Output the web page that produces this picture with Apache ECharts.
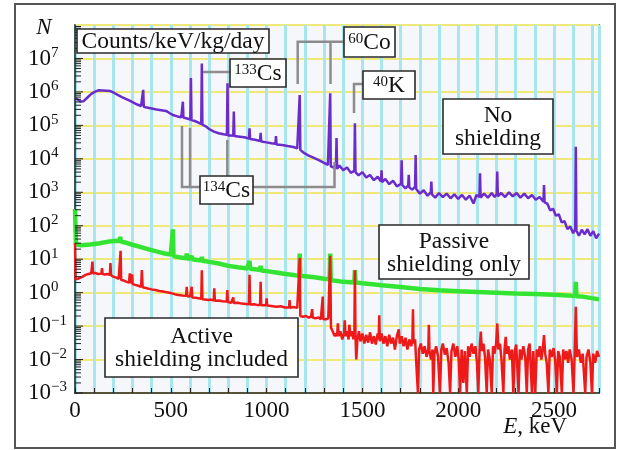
<!DOCTYPE html>
<html>
<head>
<meta charset="utf-8">
<script src="https://cdn.jsdelivr.net/npm/echarts@6/dist/echarts.min.js"></script>
<style>
  html, body { margin: 0; padding: 0; background: #fff; }
  #main-chart { width: 620px; height: 450px; }
</style>
</head>
<body>
<div id="main-chart"></div>
<script>
// [E keV, counts/keV/kg/day]
const noShielding = [
  [0, 6.6e5], [12, 6.0e5], [28, 5.2e5], [45, 5.3e5], [65, 6.8e5], [85, 8.7e5], [105, 1.02e6], [125, 1.12e6],
  [145, 1.1e6], [165, 1.08e6], [185, 1.06e6], [205, 9.3e5], [225, 8.0e5], [245, 7.0e5], [265, 6.2e5],
  [285, 5.5e5], [305, 4.8e5], [325, 4.2e5], [345, 3.8e5], [353, 3.7e5], [356, 1.15e6], [359, 3.6e5],
  [375, 3.4e5], [400, 3.2e5], [425, 3.0e5], [450, 2.85e5], [475, 2.7e5], [495, 2.3e5], [515, 2.0e5],
  [535, 1.85e5], [555, 1.75e5], [560, 1.75e5], [563, 5.1e5], [566, 1.7e5], [585, 1.6e5],
  [602, 1.5e5], [605, 2.6e6], [608, 1.45e5], [625, 1.35e5], [645, 1.2e5], [659, 1.12e5], [662, 7.1e6],
  [665, 1.05e5], [680, 9.5e4], [700, 7.8e4], [725, 6.5e4], [750, 5.8e4], [775, 5.4e4],
  [793, 5.2e4], [796, 1.8e6], [799, 5.0e4], [812, 5.0e4], [826, 4.9e4], [829, 2.6e5], [832, 4.8e4],
  [860, 4.6e4], [885, 4.4e4], [908, 4.0e4], [911, 8.1e4], [914, 3.9e4], [940, 3.7e4],
  [966, 3.4e4], [969, 6.0e4], [972, 3.3e4], [1000, 3.1e4], [1025, 2.9e4], [1046, 2.8e4], [1049, 4.8e4],
  [1052, 2.7e4], [1080, 2.6e4], [1110, 2.4e4], [1140, 2.25e4], [1160, 2.05e4], [1170, 1.95e4],
  [1173, 8.1e5], [1176, 1.85e4], [1195, 1.5e4], [1220, 1.25e4], [1250, 1.05e4], [1275, 9.0e3],
  [1300, 7.6e3], [1320, 6.6e3], [1329, 6.2e3], [1332, 9.1e5], [1335, 6.0e3], [1348, 5.6e3],
  [1362, 5.2e3], [1365, 4.2e4], [1368, 5.0e3], [1380, 6300], [1400, 4600], [1420, 5500], [1440, 3800],
  [1458, 4400], [1461, 1.15e5], [1464, 4000], [1480, 3200], [1500, 4000], [1520, 2750], [1540, 3300],
  [1560, 2300], [1580, 2900], [1597, 2100], [1600, 4500], [1603, 2000], [1620, 2500], [1640, 1750],
  [1660, 2200], [1680, 1500], [1702, 1800], [1705, 9100], [1708, 1650], [1725, 1300], [1739, 1600],
  [1742, 3300], [1745, 1400], [1760, 1200], [1775, 1450], [1778, 12900], [1781, 1250], [1800, 910],
  [1820, 1150], [1840, 790], [1857, 1000], [1860, 2100], [1863, 870], [1880, 690], [1900, 950],
  [1920, 720], [1940, 910], [1960, 660], [1980, 870], [2000, 630], [2020, 830], [2040, 600],
  [2060, 790], [2080, 460], [2095, 830], [2111, 720], [2114, 3700], [2117, 690], [2135, 910],
  [2155, 690], [2175, 950], [2190, 720], [2201, 870], [2204, 4200], [2207, 760], [2225, 950],
  [2245, 720], [2265, 1000], [2285, 760], [2305, 950], [2325, 690], [2345, 910], [2365, 660],
  [2385, 830], [2405, 600], [2425, 720], [2445, 520], [2448, 1650], [2451, 500], [2465, 460],
  [2480, 290], [2495, 320], [2510, 200], [2525, 220], [2540, 126], [2555, 138], [2570, 79],
  [2585, 95], [2600, 60], [2611, 79], [2614, 22900], [2617, 72], [2630, 50], [2645, 76],
  [2660, 55], [2675, 79], [2690, 50], [2705, 69], [2720, 42], [2735, 58]
]

const passiveOnly = [
  [0, 316], [5, 28], [30, 26], [80, 27.5], [130, 30], [180, 34], [220, 35.5], [233, 35], [236, 47],
  [239, 34], [260, 31.6], [300, 27], [340, 23.4], [380, 20], [420, 17.4], [460, 15.1], [500, 13.8],
  [508, 13.5], [511, 78], [514, 12.5], [530, 11.7], [560, 11], [580, 10.6], [583, 14.8], [586, 10.5],
  [600, 10.2], [606, 10.1], [609, 12.6], [612, 10], [640, 9.5], [659, 9.2], [662, 11.7], [665, 9],
  [700, 8.3], [750, 7.4], [800, 6.3], [850, 5.75], [900, 5.3], [908, 5.25], [911, 8.9], [914, 5.2],
  [950, 4.9], [966, 4.7], [969, 6.3], [972, 4.6], [1000, 4.4], [1050, 4.0], [1100, 3.6], [1150, 3.3],
  [1170, 3.2], [1173, 14.8], [1176, 3.15], [1200, 3.1], [1250, 2.9], [1300, 2.6], [1329, 2.5],
  [1332, 14.8], [1335, 2.4], [1350, 2.3], [1400, 2.1], [1458, 2.0], [1461, 4.7], [1464, 2.0],
  [1500, 1.9], [1600, 1.66], [1700, 1.48], [1800, 1.29], [1900, 1.17], [2000, 1.1], [2100, 1.05],
  [2200, 1.0], [2300, 0.95], [2400, 0.91], [2500, 0.87], [2600, 0.8], [2611, 0.79], [2614, 2.1],
  [2617, 0.78], [2650, 0.76], [2735, 0.63]
]

const activeIncluded = [
  [0, 30], [3, 2.5], [15, 2.6], [25, 2.7], [40, 3.0], [55, 3.4], [70, 3.6], [85, 3.8], [88, 3.6],
  [91, 8.5], [94, 3.7], [105, 3.9], [120, 3.6], [130, 4.0], [138, 3.7], [141, 5.4], [144, 3.6],
  [155, 3.5], [170, 3.6], [182, 3.4], [185, 7.6], [188, 3.3], [200, 3.0], [215, 2.8], [228, 2.6],
  [235, 2.5], [238, 17.8], [241, 2.4], [255, 2.3], [270, 2.1], [282, 2.0], [286, 3.8], [290, 1.9],
  [295, 1.9], [298, 3.5], [301, 1.8], [315, 1.7], [330, 1.6], [345, 1.5], [349, 4.7], [353, 1.45],
  [365, 1.4], [380, 1.33], [400, 1.25], [420, 1.2], [440, 1.12], [460, 1.08], [480, 1.02], [500, 0.97],
  [520, 0.9], [540, 0.85], [560, 0.82], [580, 0.8], [583, 1.5], [586, 0.78], [600, 0.76], [606, 0.75],
  [609, 1.5], [612, 0.72], [630, 0.7], [645, 0.68], [659, 0.66], [662, 4.7], [665, 0.63], [680, 0.62],
  [695, 0.6], [710, 0.62], [724, 0.58], [727, 1.35], [730, 0.57], [750, 0.58], [770, 0.55], [792, 0.54],
  [795, 1.2], [798, 0.52], [815, 0.5], [823, 0.5], [826, 0.72], [829, 0.49], [850, 0.5], [870, 0.47],
  [890, 0.46], [908, 0.45], [911, 3.4], [914, 0.44], [935, 0.45], [950, 0.43], [966, 0.43], [969, 2.1],
  [972, 0.42], [985, 0.42], [997, 0.42], [1000, 0.68], [1003, 0.41], [1025, 0.4], [1050, 0.38],
  [1075, 0.39], [1095, 0.36], [1117, 0.36], [1120, 0.6], [1123, 0.35], [1140, 0.37], [1160, 0.35],
  [1170, 0.35], [1173, 11], [1176, 0.2], [1190, 0.19], [1205, 0.2], [1220, 0.18], [1232, 0.19],
  [1238, 0.32], [1241, 0.18], [1255, 0.17], [1270, 0.18], [1283, 0.16], [1290, 0.17], [1293, 0.76],
  [1296, 0.16], [1310, 0.16], [1322, 0.17], [1329, 0.17], [1332, 12.6], [1336, 0.09], [1345, 0.07],
  [1355, 0.05], [1362, 0.06], [1368, 0.05], [1372, 0.12], [1376, 0.05], [1385, 0.07], [1395, 0.04],
  [1404, 0.06], [1408, 0.15], [1412, 0.05], [1420, 0.07], [1428, 0.04], [1432, 0.11], [1438, 0.05],
  [1446, 0.07], [1453, 0.04], [1458, 0.06], [1461, 4.7], [1464, 0.05], [1468, 0.01], [1474, 0.04],
  [1482, 0.07], [1490, 0.035], [1500, 0.06], [1510, 0.03], [1520, 0.055], [1530, 0.032], [1540, 0.065],
  [1550, 0.03], [1560, 0.05], [1570, 0.028], [1580, 0.06], [1585, 0.04], [1588, 0.21], [1591, 0.035],
  [1600, 0.06], [1610, 0.03], [1620, 0.05], [1630, 0.025], [1640, 0.055], [1650, 0.03], [1660, 0.045],
  [1670, 0.02], [1680, 0.05], [1690, 0.08], [1695, 0.03], [1705, 0.05], [1715, 0.025], [1725, 0.045],
  [1735, 0.02], [1745, 0.04], [1755, 0.025], [1761, 0.04], [1764, 0.32], [1767, 0.03], [1775, 0.04],
  [1784, 0.004], [1790, 0.001], [1796, 0.02], [1805, 0.03], [1815, 0.015], [1825, 0.025], [1835, 0.012],
  [1844, 0.02], [1847, 0.11], [1850, 0.018], [1858, 0.01], [1866, 0.02], [1870, 0.001], [1876, 0.015],
  [1885, 0.025], [1895, 0.012], [1905, 0.001], [1912, 0.02], [1920, 0.03], [1930, 0.014], [1940, 0.022],
  [1950, 0.008], [1958, 0.001], [1965, 0.018], [1975, 0.03], [1985, 0.012], [1995, 0.025], [2003, 0.01],
  [2010, 0.001], [2018, 0.02], [2027, 0.002], [2035, 0.018], [2045, 0.001], [2052, 0.025], [2060, 0.012],
  [2070, 0.03], [2080, 0.015], [2090, 0.025], [2098, 0.008], [2105, 0.001], [2112, 0.02], [2118, 0.068],
  [2124, 0.018], [2132, 0.03], [2140, 0.012], [2149, 0.001], [2156, 0.02], [2165, 0.01], [2175, 0.001],
  [2182, 0.025], [2190, 0.015], [2198, 0.03], [2204, 0.12], [2210, 0.02], [2218, 0.03], [2226, 0.01],
  [2236, 0.001], [2242, 0.02], [2248, 0.048], [2254, 0.015], [2262, 0.025], [2270, 0.01], [2280, 0.02],
  [2288, 0.001], [2295, 0.018], [2303, 0.028], [2315, 0.001], [2322, 0.02], [2330, 0.01], [2340, 0.025],
  [2350, 0.012], [2358, 0.001], [2365, 0.02], [2373, 0.03], [2385, 0.001], [2392, 0.018], [2402, 0.001],
  [2410, 0.02], [2418, 0.012], [2426, 0.025], [2434, 0.01], [2442, 0.022], [2448, 0.054], [2454, 0.015],
  [2462, 0.008], [2471, 0.001], [2478, 0.02], [2488, 0.012], [2498, 0.022], [2506, 0.01], [2515, 0.001],
  [2522, 0.018], [2530, 0.012], [2541, 0.001], [2548, 0.02], [2556, 0.01], [2565, 0.018], [2574, 0.008],
  [2582, 0.02], [2592, 0.01], [2602, 0.001], [2608, 0.015], [2614, 0.38], [2620, 0.012], [2630, 0.02],
  [2640, 0.008], [2650, 0.015], [2663, 0.001], [2670, 0.012], [2680, 0.02], [2690, 0.008], [2698, 0.001],
  [2705, 0.015], [2715, 0.008], [2725, 0.018], [2735, 0.012]
]

// powers of ten on the N axis, energy axis end
const yDecades = [-3, -2, -1, 0, 1, 2, 3, 4, 5, 6, 7]
const energyMax = 2735

const serif = '"Liberation Serif", "Times New Roman", serif'
const gridLeft = 75
const gridTop = 25

const myChart = echarts.init(document.getElementById('main-chart'))

const option = {
  animation: false,
  backgroundColor: '#fff',
  grid: {
    left: gridLeft, top: gridTop, right: 21, bottom: 57,
    show: true, backgroundColor: '#f6f7fb', borderColor: '#333', borderWidth: 1.5,
    outerBoundsMode: 'none'
  },
  xAxis: {
    type: 'value', min: 0, max: energyMax, interval: 100,
    axisLine: { lineStyle: { color: '#222', width: 1.5 } },
    axisTick: { inside: true, length: 5, lineStyle: { color: '#222' } },
    axisLabel: {
      margin: 6, fontFamily: serif, fontSize: 23, color: '#111',
      formatter: function (v) { return v % 500 === 0 ? String(v) : '' }
    },
    splitLine: { show: true, lineStyle: { color: '#a8e6ee', width: 3 } }
  },
  yAxis: {
    type: 'log', logBase: 10, min: 1e-3, max: 1e8, interval: 1, splitNumber: 11,
    axisLine: { show: true, lineStyle: { color: '#222', width: 1.5 } },
    axisTick: { show: false },
    axisLabel: {
      align: 'left', margin: 47, hideOverlap: false,
      formatter: function (v) {
        const p = Math.round(Math.log10(v))
        if (p > 7) return ''
        return '{b|10}{s|' + (p < 0 ? '\u2212' + (-p) : p) + '}'
      },
      rich: {
        b: { fontFamily: serif, fontSize: 23, color: '#111', lineHeight: 26 },
        s: { fontFamily: serif, fontSize: 15, color: '#111', verticalAlign: 'top', lineHeight: 15 }
      }
    },
    splitLine: { show: true, lineStyle: { color: '#efe97a', width: 2 } }
  },
  series: [
    {
      name: 'No shielding', type: 'line', data: noShielding, symbol: 'none', sampling: null,
      lineStyle: { color: '#6a2ccb', width: 2.5 }, z: 3
    },
    {
      name: 'Passive shielding only', type: 'line', data: passiveOnly, symbol: 'none',
      lineStyle: { color: '#33e433', width: 4.5 }, z: 4
    },
    {
      name: 'Active shielding included', type: 'line', data: activeIncluded, symbol: 'none',
      lineStyle: { color: '#ee1a1a', width: 2.5 }, z: 5
    }
  ]
}

myChart.setOption(option)

// ---- decorations: log minor ticks, brackets, boxed labels ----
const gfx = []

yDecades.forEach(function (p) {
  for (let k = 1; k <= 9; k++) {
    const y = myChart.convertToPixel({ yAxisIndex: 0 }, k * Math.pow(10, p))
    gfx.push({
      type: 'line', z: 60,
      shape: { x1: gridLeft, y1: y, x2: gridLeft + (k === 1 ? 8 : 6), y2: y },
      style: { stroke: '#222', lineWidth: 1 }
    })
  }
})

const grey = { stroke: '#8c8c8c', lineWidth: 2.5, fill: null }
function bracket(points) {
  gfx.push({ type: 'polyline', z: 70, shape: { points: points }, style: grey })
}
bracket([[203, 72], [230, 72]])
bracket([[297.7, 84], [297.7, 41.7], [344, 41.7]])
bracket([[330.5, 41.7], [330.5, 84]])
bracket([[363, 84], [354, 84], [354, 113]])
bracket([[182, 126], [182, 187], [200, 187]])
bracket([[190, 128], [190, 187]])
bracket([[227.3, 140], [227.3, 176]])
bracket([[253, 187], [334.5, 187], [334.5, 162]])

const boxRich = {
  b: { fontFamily: serif, fontSize: 23.5, fill: '#111', lineHeight: 23 },
  s: { fontFamily: serif, fontSize: 15, fill: '#111', verticalAlign: 'top', lineHeight: 15 }
}
function box(x, y, w, h, text) {
  gfx.push({
    type: 'rect', z: 80, shape: { x: x, y: y, width: w, height: h },
    style: { fill: '#fff', stroke: '#2a2a2a', lineWidth: 1.6 }
  })
  gfx.push({
    type: 'text', z: 81, x: x + w / 2, y: y + h / 2 + 1,
    style: { text: text, rich: boxRich, align: 'center', verticalAlign: 'middle' }
  })
}
box(77, 29, 192, 24, '{b|Counts/keV/kg/day}')
box(230, 59, 56, 28, '{s|133}{b|Cs}')
box(344, 27, 51, 30, '{s|60}{b|Co}')
box(363, 71, 52, 28, '{s|40}{b|K}')
box(200, 176, 53, 28, '{s|134}{b|Cs}')
box(443, 99, 110, 55, '{b|No}\n{b|shielding}')
box(379, 225, 150, 54, '{b|Passive}\n{b|shielding only}')
box(105, 318, 193, 59, '{b|Active}\n{b|shielding included}')

// axis names
gfx.push({
  type: 'text', z: 81, x: 44, y: 28,
  style: { text: 'N', fontFamily: serif, fontStyle: 'italic', fontSize: 23, fill: '#111', align: 'center', verticalAlign: 'middle' }
})
gfx.push({
  type: 'text', z: 81, x: 567, y: 427,
  style: {
    text: '{i|E}{r|, keV}', align: 'right', verticalAlign: 'middle',
    rich: {
      i: { fontFamily: serif, fontStyle: 'italic', fontSize: 23, fill: '#111' },
      r: { fontFamily: serif, fontSize: 23, fill: '#111' }
    }
  }
})

// outer frame
gfx.push({
  type: 'rect', z: 90, shape: { x: 15, y: 4, width: 600, height: 444 },
  style: { fill: null, stroke: '#555', lineWidth: 2 }
})

myChart.setOption({ graphic: gfx })
</script>
</body>
</html>
